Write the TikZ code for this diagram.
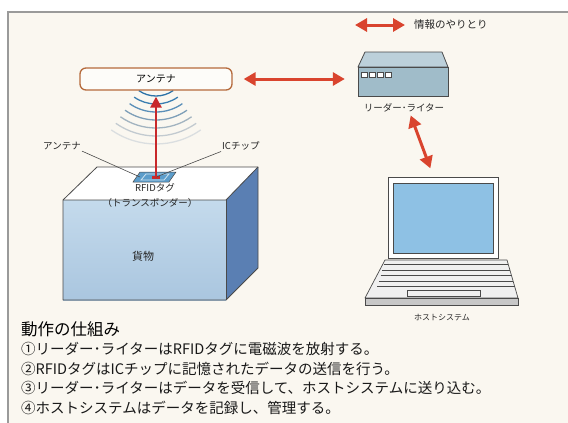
\documentclass[tikz,border=0pt]{standalone}
\usepackage{fontspec}
\setmainfont{Noto Sans CJK JP}
\usetikzlibrary{arrows.meta}

\definecolor{paper}{HTML}{FAF7F0}
\definecolor{framegray}{HTML}{9A9A9A}
\definecolor{flowred}{HTML}{D9442E}
\definecolor{beamred}{HTML}{C8282A}
\definecolor{inkgray}{HTML}{4A4A4A}
\definecolor{antline}{HTML}{B56A3C}
\definecolor{boxfront}{HTML}{C4DAEC}
\definecolor{boxfrontlow}{HTML}{AAC6DF}
\definecolor{boxside}{HTML}{5A7FB3}
\definecolor{devtop}{HTML}{BCD0DA}
\definecolor{devfront}{HTML}{A0BCC9}
\definecolor{screenblue}{HTML}{8EC1E4}
\definecolor{tagblue}{HTML}{5C9DCB}

\tikzset{
  flowarrow/.style={draw=flowred, line width=3pt,
    {Triangle[length=12pt,width=13pt]}-{Triangle[length=12pt,width=13pt]}},
  beamarrow/.style={draw=beamred, line width=2.6pt,
    -{Triangle[length=11pt,width=11pt]}},
  leader/.style={draw=inkgray, line width=0.6pt},
  outline/.style={draw=inkgray, line width=0.8pt},
  lbl/.style={inner sep=1pt, text=black!85},
  bodytext/.style={anchor=west, inner sep=0pt, text=black!90,
    font=\fontsize{14.5}{16}\selectfont},
}

\begin{document}
\begin{tikzpicture}[x=1pt,y=-1pt]
\useasboundingbox (0,0) rectangle (568,423);
\fill[white] (0,0) rectangle (568,423);

% panel background and frame
\fill[paper] (8,12) rectangle (568,423);
\draw[framegray, line width=1.3pt] (8,423) -- (8,12) -- (568,12);

% legend
\coordinate (legtail) at (355,25);
\node[lbl, anchor=west, font=\fontsize{10.5}{12}\selectfont] (legtext) at (413,25) {情報のやりとり};
\draw[flowarrow, shorten >=8pt] (legtail) -- (legtext.west);

% radio waves below the antenna
\foreach \r/\c in {30/2C73A8, 38/3A7EB1, 46/5A8FB8, 54/7E9FB8,
                   62/A2B3C0, 70/C2CAD0, 78/DADEE0} {
  \definecolor{wavec}{HTML}{\c}
  \draw[wavec, line width=1.3pt] (156,66) ++(55:\r) arc (55:125:\r);
}

% antenna of the reader/writer
\node[draw=antline, fill=white!60!paper, line width=1.3pt, rounded corners=6pt,
      minimum width=152pt, minimum height=22pt, inner sep=0pt,
      font=\fontsize{10}{12}\selectfont] (ant) at (156,79) {アンテナ};

% cargo box
\fill[white] (63,200) -- (226,200) -- (258,167) -- (97,167) -- cycle;
\shade[top color=boxfront, bottom color=boxfrontlow] (63,200) rectangle (226,300);
\fill[boxside] (226,200) -- (258,167) -- (258,268) -- (226,300) -- cycle;
\draw[outline, line join=round] (63,300) -- (63,200) -- (97,167) -- (258,167)
  -- (258,268) -- (226,300) -- cycle;
\draw[outline] (63,200) -- (226,200) -- (258,167);
\draw[outline] (226,200) -- (226,300);
\node[lbl, font=\fontsize{11}{13}\selectfont] (cargo) at (143,256) {貨物};

% RFID tag on the top face
\filldraw[fill=tagblue, draw=inkgray, line width=0.5pt]
  (133,182) -- (169,182) -- (176,172) -- (140,172) -- cycle;
\draw[white!70!tagblue, line width=0.8pt] (141,180) -- (164,180) -- (169,174) -- (146,174) -- cycle;
\fill[beamred] (152,175.5) rectangle (160,178.5);
\coordinate (chip) at (156,177);
\coordinate (tagleft) at (140,177);

\node[lbl, font=\fontsize{9.5}{11}\selectfont] (tagname) at (155,188) {RFIDタグ};
\node[lbl, font=\fontsize{9.5}{11}\selectfont] (tagalias) at (150,203) {（トランスポンダー）};

% labels pointing at the tag
\node[lbl, anchor=east, font=\fontsize{9.5}{11}\selectfont] (lblant) at (82,146) {アンテナ};
\node[lbl, anchor=west, font=\fontsize{9.5}{11}\selectfont] (lblic) at (221,146) {ICチップ};
\draw[leader] (lblant.south east) -- (tagleft);
\draw[leader] (lblic.south west) -- (chip);

% signal from the tag to the antenna
\draw[beamarrow, shorten >=6pt] (chip) -- (ant.south);

% reader/writer device
\node[inner sep=0pt, minimum width=90pt, minimum height=44pt] (reader) at (403,74) {};
\filldraw[fill=devtop, outline, line join=round]
  (365,52) -- (442,52) -- (448,67) -- (358,67) -- cycle;
\filldraw[fill=devfront, outline] (358,67) rectangle (448,96);
\foreach \sx in {361,369,377,385}
  \filldraw[fill=white, draw=inkgray, line width=0.6pt] (\sx,72) rectangle ++(6,5);
\node[lbl, font=\fontsize{9.5}{11}\selectfont] (rwlabel) at (404,108) {リーダー･ライター};

% host system (laptop)
\node[inner sep=0pt, minimum width=153pt, minimum height=128pt] (laptop) at (441.5,241) {};
\filldraw[fill=white, draw=inkgray, line width=0.8pt] (388,177) rectangle (498,258);
\filldraw[fill=screenblue, draw=inkgray, line width=0.9pt] (393,183) rectangle (493,253);
\filldraw[fill=black!6, draw=inkgray, line width=0.7pt, line join=round]
  (385,260) -- (507,260) -- (518,298) -- (365,298) -- cycle;
\foreach \ky/\kl/\kr in {264/383.8/508.2, 270/382.1/509.9, 275/380.6/511.4,
                         281/378.8/513.2, 286/377.4/514.6}
  \draw[inkgray, line width=0.5pt] (\kl,\ky) -- (\kr,\ky);
\draw[inkgray, line width=0.6pt] (407,290) rectangle (480,296);
\filldraw[fill=black!22, draw=inkgray, line width=0.7pt] (365,298) rectangle (518,305);
\node[lbl, font=\fontsize{8}{10}\selectfont] (hostlabel) at (442,318) {ホストシステム};

% data exchange between the devices
\draw[flowarrow, shorten <=11pt, shorten >=13pt] (ant.east) -- (ant.east -| reader.west);
\draw[flowarrow, shorten <=2pt, shorten >=9pt]
  ([xshift=6pt]rwlabel.south) -- ([xshift=-8pt]laptop.north);

% how it works
\node[anchor=west, inner sep=0pt, text=black, font=\fontsize{16.5}{18}\selectfont]
  (howto) at (21,329) {動作の仕組み};
\node[bodytext] (step1) at (21,349) {①リーダー･ライターはRFIDタグに電磁波を放射する。};
\node[bodytext] (step2) at (21,368.5) {②RFIDタグはICチップに記憶されたデータの送信を行う。};
\node[bodytext] (step3) at (21,388) {③リーダー･ライターはデータを受信して、ホストシステムに送り込む。};
\node[bodytext] (step4) at (21,407.5) {④ホストシステムはデータを記録し、管理する。};
\end{tikzpicture}
\end{document}
